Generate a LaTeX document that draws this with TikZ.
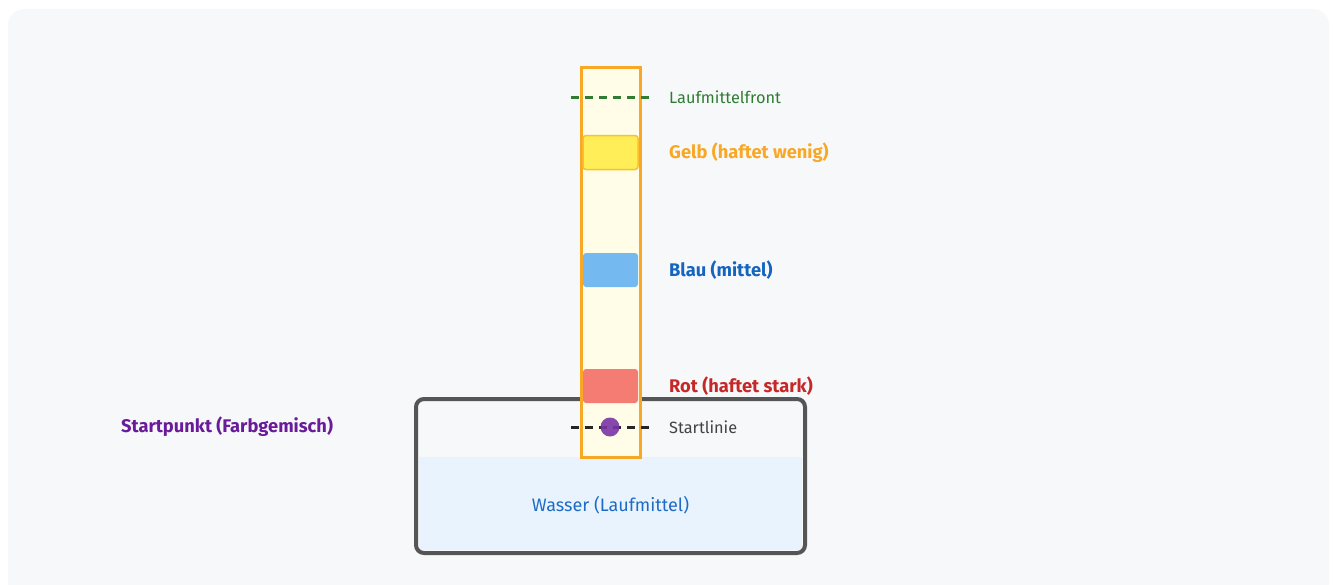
\documentclass[tikz,border=0pt]{standalone}
\usepackage{fontspec}
\setmainfont{Fira Sans}
\usetikzlibrary{positioning}

\definecolor{panelbg}{HTML}{F7F8FA}
\definecolor{stripfill}{HTML}{FFFDE7}
\definecolor{stripline}{HTML}{F9A825}
\definecolor{frontgreen}{HTML}{2E7D32}
\definecolor{gelbfill}{HTML}{FFEE58}
\definecolor{gelbline}{HTML}{FBC02D}
\definecolor{blaufill}{HTML}{74B9EF}
\definecolor{blautext}{HTML}{1565C0}
\definecolor{rotfill}{HTML}{F47C72}
\definecolor{rottext}{HTML}{C62828}
\definecolor{beakerline}{HTML}{555555}
\definecolor{wasserfill}{HTML}{E9F3FD}
\definecolor{wassertext}{HTML}{1E6BC4}
\definecolor{startgray}{HTML}{424242}
\definecolor{purpledot}{HTML}{7A35A6}
\definecolor{purpletext}{HTML}{6A1B9A}

\begin{document}
\begin{tikzpicture}[
    x=1pt, y=-1pt,
    lbl/.style={
        anchor=west,
        inner sep=0pt,
        font=\fontsize{16.3}{19}\selectfont
    },
    boldlbl/.style={
        lbl,
        font=\fontsize{18.3}{21}\selectfont\bfseries
    },
    band/.style={
        rounded corners=3pt,
        minimum width=55pt,
        minimum height=34pt,
        inner sep=0pt
    },
    markline/.style={
        line width=3pt,
        dash pattern=on 8pt off 6pt
    }
]
    \useasboundingbox (0,0) rectangle (1333,584);
    \fill[panelbg, rounded corners=16pt] (8,9) rectangle (1329,600);

    % Becherglas
    \node[draw=none, fill=wasserfill, minimum width=383pt, minimum height=93pt,
          inner sep=0pt] (wasser) at (610.5,503.5) {};
    \node[font=\fontsize{18}{21}\selectfont, text=wassertext] (wasserlbl)
        at (610.5,505) {Wasser (Laufmittel)};
    \node[draw=beakerline, line width=4pt, rounded corners=8pt,
          minimum width=389pt, minimum height=154pt, inner sep=0pt] (becher)
        at (610.5,476) {};

    % Papierstreifen
    \node[draw=stripline, fill=stripfill, line width=3pt,
          minimum width=59pt, minimum height=390pt, inner sep=0pt] (streifen)
        at (610.5,262) {};

    % Farbflecken
    \node[band, fill=gelbfill, draw=gelbline, line width=1.5pt] (gelb) at (610.5,152.5) {};
    \node[band, fill=blaufill] (blau) at (610.5,270) {};
    \node[band, fill=rotfill] (rot) at (610.5,386) {};

    % Linien
    \coordinate (frontL) at (571,97);
    \coordinate (frontR) at (650,97);
    \coordinate (startL) at (571,427);
    \coordinate (startR) at (650,427);
    \draw[markline, frontgreen] (frontL) -- (frontR);
    \draw[markline, black!85] (startL) -- (startR);
    \node[circle, fill=purpledot, fill opacity=0.9, minimum size=19pt,
          inner sep=0pt] (punkt) at (610,427) {};

    % Beschriftungen
    \node[lbl, text=frontgreen] (frontlbl) at (669,97) {Laufmittelfront};
    \node[boldlbl, text=stripline] (gelblbl) at (669,153) {Gelb (haftet wenig)};
    \node[boldlbl, text=blautext] (blaulbl) at (669,270) {Blau (mittel)};
    \node[boldlbl, text=rottext] (rotlbl) at (669,386) {Rot (haftet stark)};
    \node[lbl, text=startgray] (startlbl) at (669,427) {Startlinie};
    \node[boldlbl, text=purpletext] (punktlbl) at (121,427) {Startpunkt (Farbgemisch)};
\end{tikzpicture}
\end{document}
